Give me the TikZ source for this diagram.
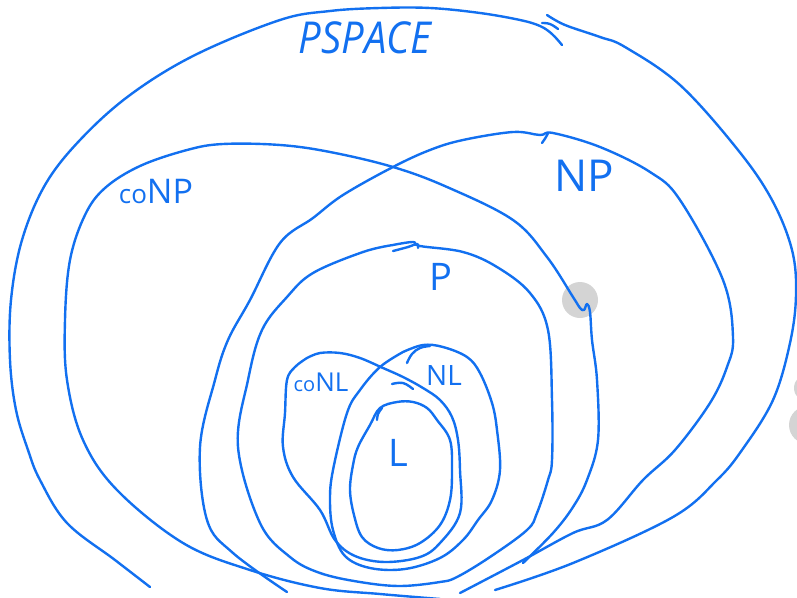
\documentclass[tikz,border=0pt]{standalone}
\usepackage{fontspec}
\setmainfont{Open Sans}
\begin{document}
\begin{tikzpicture}[x=1pt,y=-1pt,
  ink/.style={draw=inkblue,line width=2.4pt,line cap=round,line join=round},
  lbl/.style={text=inkblue,inner sep=0pt,font=\fontsize{#1}{#1}\selectfont},
  lbl/.default=30,
  spot/.style={fill=black!17,draw=none}]
\definecolor{inkblue}{RGB}{18,112,240}
\useasboundingbox (0,0) rectangle (797,597);
\clip (0,0) rectangle (797,597);

% grey marker spots
\fill[spot] (580,300) circle (18);
\fill[spot] (808,388) circle (14);
\fill[spot] (808,425) circle (19);

% PSPACE: left stroke and right stroke
\draw[ink] plot[smooth,tension=0.6] coordinates {(150,587) (115,560) (67,523) (40,480) (28,450) (16,410) (10,360) (11,300) (22,240) (45,185) (80,140) (130,95) (195,55) (280,20) (330,11) (380,8) (430,8) (480,13) (520,20) (540,26) (552,34) (562,45)};
\draw[ink] plot[smooth,tension=0.6] coordinates {(547,15) (565,25) (600,37) (625,47) (680,85) (738,150) (772,200) (792,250) (796,295) (790,343) (773,400) (742,450) (717,480) (673,517) (573,563) (495,590)};
\draw[ink] plot[smooth,tension=0.7] coordinates {(542,23) (550,24) (558,29)};

% coNP
\draw[ink] plot[smooth,tension=0.6] coordinates {(440,599) (380,594) (320,588) (250,570) (183,543) (117,490) (83,440) (67,380) (65,320) (70,260) (85,215) (105,188) (140,166) (187,150) (223,144) (280,145) (330,152) (393,167) (447,187) (513,220) (547,257) (573,297) (580,308) (584,310) (587,304) (590,312) (592,340) (597,380) (598,440) (587,480) (573,507) (553,533) (523,563)};

% NP
\draw[ink] plot[smooth,tension=0.6] coordinates {(287,592) (233,553) (207,520) (200,447) (215,380) (228,340) (250,300) (280,243) (313,218) (343,195) (393,167) (430,150) (463,140) (513,132) (540,135) (553,133) (600,147) (650,172) (680,200) (723,280) (733,337) (727,367) (710,403) (675,450) (643,480) (607,520) (573,533) (523,560) (460,593)};
\draw[ink] plot[smooth,tension=0.7] coordinates {(542,143) (546,137) (548,133)};

% P
\draw[ink] plot[smooth,tension=0.6] coordinates {(393,245) (413,242) (420,246) (463,252) (497,267) (530,293) (548,330) (552,400) (552,460) (548,480) (537,513) (527,530) (490,557) (457,577) (440,582) (400,586) (360,582) (320,573) (290,557) (260,523) (238,447) (248,380) (262,330) (287,297) (313,273) (363,252) (393,245)};
\draw[ink] plot[smooth,tension=0.7] coordinates {(393,251) (408,247) (417,244) (418,248)};

% coNL
\draw[ink] plot[smooth,tension=0.6] coordinates {(307,358) (320,353) (340,353) (360,358) (383,368) (403,377) (423,388) (440,400) (452,417) (458,440) (460,470) (460,513) (440,543) (420,557) (385,562) (355,556) (335,540) (320,510) (293,477) (283,447) (285,413) (287,380) (295,367) (307,358)};
\draw[ink] plot[smooth,tension=0.7] coordinates {(392,384) (403,383) (413,389)};

% NL
\draw[ink] plot[smooth,tension=0.6] coordinates {(403,352) (423,345) (443,347) (467,357) (480,373) (492,403) (497,430) (500,470) (492,500) (478,520) (463,540) (440,558) (405,569) (370,568) (345,556) (333,530) (330,500) (333,470) (347,413) (360,390) (380,367) (403,352)};
\draw[ink] plot[smooth,tension=0.7] coordinates {(407,363) (412,354) (420,348) (430,346)};

% L
\draw[ink] plot[smooth cycle,tension=0.6] coordinates {(380,408) (397,402) (413,402) (427,408) (437,420) (450,440) (452,470) (450,500) (440,525) (420,543) (398,550) (378,548) (362,537) (354,515) (350,490) (353,465) (358,447) (370,425)};
\draw[ink] plot[smooth,tension=0.7] coordinates {(377,420) (378,414) (382,408)};

% class labels
\node[lbl=40,yscale=1.1,font=\fontsize{40}{40}\selectfont\itshape] (pspace) at (365,38) {PSPACE};
\node[lbl=34] (conp) at (156,191) {\fontsize{26}{26}\selectfont co\fontsize{34}{34}\selectfont NP};
\node[lbl=44] (np) at (584,176) {NP};
\node[lbl=38] (p) at (441,277) {P};
\node[lbl=26] (conl) at (321,382) {\fontsize{20}{20}\selectfont co\fontsize{26}{26}\selectfont NL};
\node[lbl=28] (nl) at (444,375) {NL};
\node[lbl=38] (l) at (398,453) {L};
\end{tikzpicture}
\end{document}
